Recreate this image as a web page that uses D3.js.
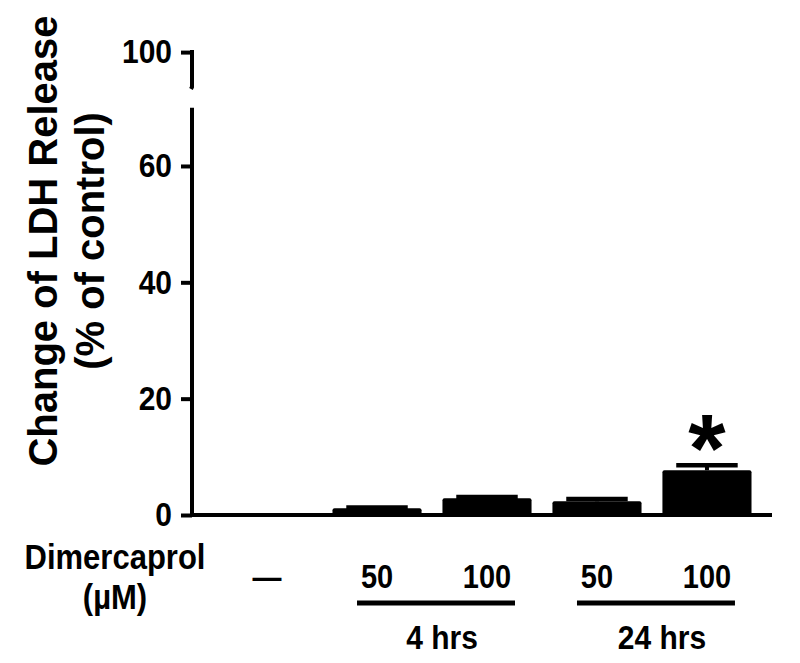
<!DOCTYPE html>
<html>
<head>
<meta charset="utf-8">
<script src="https://cdn.jsdelivr.net/npm/d3@7"></script>
<style>
  body { margin: 0; background: #fff; }
  text { font-family: "Liberation Sans", Arial, sans-serif; font-weight: bold; fill: #000; }
</style>
</head>
<body>
<script>
var w = 800;
var h = 663;

// data
var groups = ["control", "4h-50", "4h-100", "24h-50", "24h-100"];
var doseLabels = ["\u2014", "50", "100", "50", "100"];
var meanValues = [0, 1.15, 2.9, 2.35, 7.7];
var semValues = [0, 0.12, 0.2, 0.42, 0.85];
var sigMarks = ["", "", "", "", "*"];
var timeLabels = ["4 hrs", "24 hrs"];
var timeGroups = [["4h-50", "4h-100"], ["24h-50", "24h-100"]];
var lowTicks = [0, 20, 40, 60];
var highTicks = [100];

var svg = d3.select("body").append("svg")
    .attr("width", w)
    .attr("height", h);

var stretch = "scale(1,1.12)"; // the figure's lettering is a bit taller than Arial

// broken y axis : 0-70 below the break, 94-100 above
var yLow = d3.scaleLinear().domain([0, 70]).range([515, 107.8]);
var yHigh = d3.scaleLinear().domain([94, 100]).range([87, 52.1]);
var axisX = 192;

var x = d3.scaleBand()
    .domain(groups)
    .range([167.5, 806.5])
    .paddingInner(0.19)
    .paddingOuter(0.5);

function styleAxis(g) {
    g.select(".domain").remove();
    g.selectAll(".tick line").attr("stroke", "#000").attr("stroke-width", 4);
    g.selectAll(".tick text")
        .style("font-family", "'Liberation Sans', Arial, sans-serif")
        .style("font-weight", "bold")
        .style("font-size", "30px")
        .attr("transform", stretch)
        .attr("fill", "#000");
}

svg.append("g")
    .attr("transform", "translate(" + axisX + ",0)")
    .call(d3.axisLeft(yLow).tickValues(lowTicks).tickSize(11).tickPadding(9).tickFormat(d3.format("d")))
    .call(styleAxis);

svg.append("g")
    .attr("transform", "translate(" + axisX + ",0)")
    .call(d3.axisLeft(yHigh).tickValues(highTicks).tickSize(11).tickPadding(9).tickFormat(d3.format("d")))
    .call(styleAxis);

// axis segments with the break
svg.append("path")
    .attr("d", "M" + axisX + "," + (yHigh(100) - 2) + "V" + yHigh(94) + "L" + (axisX - 1) + "," + (yHigh(94) + 2))
    .attr("stroke", "#000").attr("stroke-width", 4).attr("fill", "none");
svg.append("path")
    .attr("d", "M" + axisX + "," + yLow(70) + "V" + (yLow(0) + 2))
    .attr("stroke", "#000").attr("stroke-width", 4).attr("fill", "none");

// x baseline
svg.append("line")
    .attr("x1", axisX - 2).attr("x2", 772)
    .attr("y1", yLow(0)).attr("y2", yLow(0))
    .attr("stroke", "#000").attr("stroke-width", 4);

// bars
var capW = x.bandwidth() * 0.69;
for (var i = 0; i < groups.length; i++) {
    if (meanValues[i] <= 0) continue;
    var cx = x(groups[i]) + x.bandwidth() / 2;
    var capY = yLow(meanValues[i] + semValues[i]);
    svg.append("rect")
        .attr("x", x(groups[i]))
        .attr("y", yLow(meanValues[i]))
        .attr("width", x.bandwidth())
        .attr("height", yLow(0) - yLow(meanValues[i]))
        .attr("rx", 2)
        .attr("fill", "#000");
    // error bar (upper only)
    svg.append("line")
        .attr("x1", cx).attr("x2", cx)
        .attr("y1", yLow(meanValues[i])).attr("y2", capY)
        .attr("stroke", "#000").attr("stroke-width", 4);
    svg.append("line")
        .attr("x1", cx - capW / 2).attr("x2", cx + capW / 2)
        .attr("y1", capY).attr("y2", capY)
        .attr("stroke", "#000").attr("stroke-width", 4.5);
    if (sigMarks[i]) {
        svg.append("text")
            .attr("x", cx)
            .attr("y", capY + 16)
            .attr("text-anchor", "middle")
            .style("font-size", "96px")
            .text(sigMarks[i]);
    }
}

// y axis title
var yTitle = ["Change of LDH Release", "(% of control)"];
svg.selectAll(".ytitle")
    .data(yTitle)
    .enter().append("text")
    .attr("class", "ytitle")
    .attr("transform", function(d, k) { return "translate(" + (57 + k * 47) + ",241) rotate(-90)"; })
    .attr("text-anchor", "middle")
    .style("font-size", "40px")
    .text(function(d) { return d; });

// dose row
function label(str, px, py, size) {
    return svg.append("text")
        .attr("transform", "translate(" + px + "," + py + ") " + stretch)
        .attr("text-anchor", "middle")
        .style("font-size", size + "px")
        .text(str);
}
label("Dimercaprol", 115, 569, 31);
label("(\u00b5M)", 115, 609, 31);

for (var j = 0; j < groups.length; j++) {
    label(doseLabels[j], x(groups[j]) + x.bandwidth() / 2, 588, 29);
}

// time groups
for (var t = 0; t < timeGroups.length; t++) {
    var a = x(timeGroups[t][0]) + x.bandwidth() / 2 - 20;
    var b = x(timeGroups[t][1]) + x.bandwidth() / 2 + 28;
    svg.append("line")
        .attr("x1", a).attr("x2", b)
        .attr("y1", 603).attr("y2", 603)
        .attr("stroke", "#000").attr("stroke-width", 5);
    label(timeLabels[t], (a + b) / 2 + 6, 649, 30);
}
</script>
</body>
</html>
